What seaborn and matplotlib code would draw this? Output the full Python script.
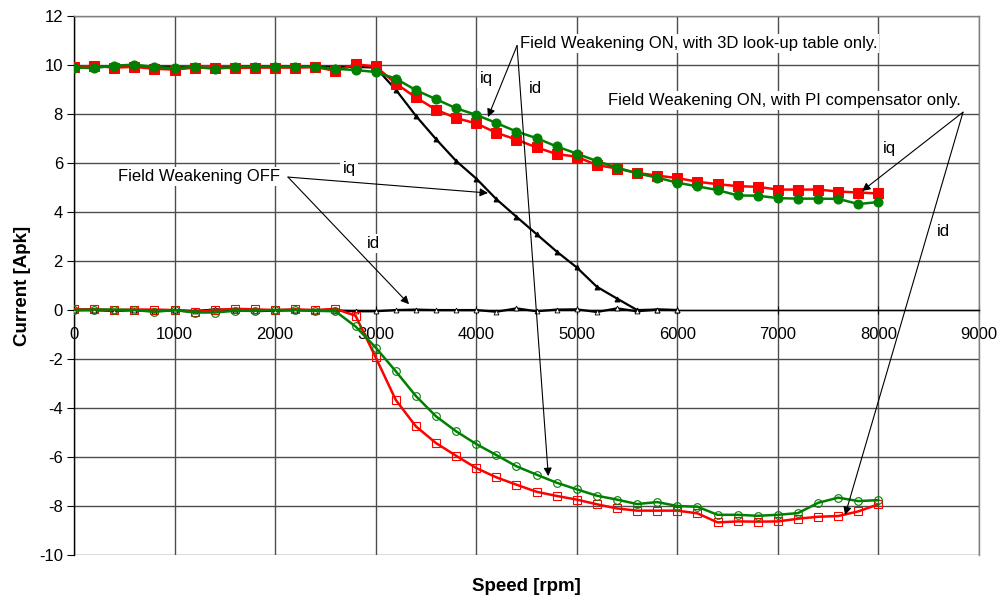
import matplotlib
matplotlib.use("Agg")
import pandas as pd
import seaborn as sns
from matplotlib import pyplot as plt

sns.set_style("white")
plt.rcParams['font.family'] = ['Liberation Sans', 'DejaVu Sans']
plt.rcParams['axes.unicode_minus'] = False
plt.rcParams['text.color'] = 'black'
plt.rcParams['axes.labelcolor'] = 'black'
plt.rcParams['xtick.color'] = 'black'
plt.rcParams['ytick.color'] = 'black'

# Speed points [rpm]
speed = [0, 200, 400, 600, 800, 1000, 1200, 1400, 1600, 1800, 2000, 2200, 2400, 2600,
         2800, 3000, 3200, 3400, 3600, 3800, 4000, 4200, 4400, 4600, 4800, 5000, 5200,
         5400, 5600, 5800, 6000, 6200, 6400, 6600, 6800, 7000, 7200, 7400, 7600, 7800, 8000]
speed_off = speed[:31]

# Field weakening OFF
off_iq = [9.95, 9.93, 9.93, 9.93, 9.93, 9.93, 9.90, 9.90, 9.93, 9.93, 9.93, 9.93, 9.93, 9.93,
          9.93, 9.90, 9.00, 7.93, 6.98, 6.09, 5.37, 4.53, 3.81, 3.10, 2.39, 1.74, 0.95, 0.47,
          0.00, 0.02, 0.00]
off_id = [0.00, 0.00, -0.03, 0.00, -0.05, 0.00, -0.05, 0.03, 0.00, -0.05, -0.02, 0.00, -0.02,
          -0.02, -0.05, -0.05, 0.00, 0.02, 0.00, 0.00, 0.00, -0.07, 0.07, -0.05, 0.02, 0.03,
          -0.08, 0.07, -0.05, 0.02, 0.00]

# Field weakening ON, PI compensator only (red)
pi_iq = [9.93, 9.97, 9.90, 9.93, 9.85, 9.82, 9.90, 9.90, 9.88, 9.90, 9.90, 9.90, 9.92, 9.77,
         10.03, 9.95, 9.25, 8.68, 8.18, 7.84, 7.62, 7.24, 6.96, 6.64, 6.37, 6.26, 5.92, 5.78,
         5.60, 5.49, 5.39, 5.24, 5.14, 5.06, 5.03, 4.92, 4.92, 4.92, 4.84, 4.80, 4.76]
pi_id = [0.03, 0.03, 0.00, 0.02, 0.02, 0.00, -0.08, 0.00, 0.05, 0.03, 0.00, 0.03, 0.00, 0.05,
         -0.23, -1.93, -3.67, -4.75, -5.43, -5.95, -6.45, -6.83, -7.13, -7.42, -7.59, -7.74,
         -7.93, -8.10, -8.19, -8.19, -8.19, -8.30, -8.67, -8.63, -8.64, -8.63, -8.52, -8.44,
         -8.41, -8.22, -7.93]

# Field weakening ON, 3D look-up table only (green)
lut_iq = [9.90, 9.88, 9.98, 10.02, 9.93, 9.87, 9.93, 9.85, 9.93, 9.93, 9.93, 9.93, 9.93, 9.85,
          9.80, 9.72, 9.45, 8.98, 8.61, 8.24, 7.97, 7.64, 7.29, 7.02, 6.68, 6.39, 6.08, 5.82,
          5.58, 5.41, 5.20, 5.05, 4.90, 4.68, 4.67, 4.57, 4.55, 4.55, 4.54, 4.33, 4.41]
lut_id = [0.00, 0.02, 0.02, 0.00, -0.07, 0.00, -0.10, -0.10, -0.03, -0.03, 0.00, 0.00, -0.03,
          -0.05, -0.67, -1.53, -2.50, -3.51, -4.34, -4.95, -5.47, -5.92, -6.38, -6.72, -7.05,
          -7.32, -7.58, -7.74, -7.92, -7.84, -8.00, -8.03, -8.36, -8.36, -8.40, -8.36, -8.29,
          -7.87, -7.66, -7.80, -7.76]

RED = '#FF0000'
GREEN = '#008000'
FS = 12

fig = plt.figure(figsize=(10, 5.99), dpi=100)
ax = fig.add_axes([0.074, 0.0735, 0.905, 0.8995])

# grid first
ax.set_axisbelow(True)
ax.grid(True, color='#4d4d4d', linewidth=1.0)

sns.lineplot(x=speed_off, y=off_iq, ax=ax, color='black', lw=1.6, marker='^', ms=3.5,
             mec='black', mfc='black', estimator=None, sort=False, zorder=3)
sns.lineplot(x=speed_off, y=off_id, ax=ax, color='black', lw=1.6, marker='^', ms=3.5,
             mec='black', mfc='white', mew=0.6, estimator=None, sort=False, zorder=3)
sns.lineplot(x=speed, y=pi_iq, ax=ax, color=RED, lw=1.8, marker='s', ms=6.5,
             mec=RED, mfc=RED, estimator=None, sort=False, zorder=4)
sns.lineplot(x=speed, y=pi_id, ax=ax, color=RED, lw=1.8, marker='s', ms=5.5,
             mec=RED, mfc='none', mew=0.8, estimator=None, sort=False, zorder=4)
sns.lineplot(x=speed, y=lut_iq, ax=ax, color=GREEN, lw=1.8, marker='o', ms=6.5,
             mec=GREEN, mfc=GREEN, estimator=None, sort=False, zorder=5)
sns.lineplot(x=speed, y=lut_id, ax=ax, color=GREEN, lw=1.8, marker='o', ms=5.5,
             mec=GREEN, mfc='none', mew=0.8, estimator=None, sort=False, zorder=5)

ax.set_xlim(0, 9000)
ax.set_ylim(-10, 12)
ax.set_xticks(range(0, 9001, 1000))
ax.set_yticks(range(-10, 13, 2))

# Excel-like axes: x axis crosses at y=0
ax.spines['bottom'].set_position(('data', 0))
ax.spines['bottom'].set_color('black')
ax.spines['left'].set_color('black')
ax.spines['top'].set_color('#808080')
ax.spines['right'].set_color('#808080')
for s in ax.spines.values():
    s.set_linewidth(1.0)
ax.tick_params(axis='x', direction='inout', length=6, pad=9, labelsize=FS, color='black')
ax.tick_params(axis='y', direction='out', length=5, pad=3, labelsize=FS, color='black')
ax.tick_params(left=True, bottom=True)

ax.set_xlabel('Speed [rpm]', fontsize=13.5, fontweight='bold')
ax.xaxis.set_label_coords(0.5, -0.043)
ax.set_ylabel('Current [Apk]', fontsize=13.5, fontweight='bold')
ax.yaxis.set_label_coords(-0.048, 0.5)

box = dict(facecolor='white', edgecolor='none', pad=1.5)
arrow = dict(arrowstyle='-|>', color='black', lw=0.8, mutation_scale=12, shrinkA=0, shrinkB=0)

# Field Weakening OFF
ax.text(438, 5.45, 'Field Weakening OFF', fontsize=FS, va='center', ha='left', bbox=box, zorder=10)
ax.annotate('', xy=(4117, 4.78), xytext=(2128, 5.43), arrowprops=arrow, zorder=9)
ax.annotate('', xy=(3332, 0.24), xytext=(2128, 5.43), arrowprops=arrow, zorder=9)
ax.text(2735, 5.8, 'iq', fontsize=FS, ha='center', va='center', bbox=box, zorder=10)
ax.text(2974, 2.73, 'id', fontsize=FS, ha='center', va='center', bbox=box, zorder=10)

# Field Weakening ON, 3D look-up table
ax.text(4435, 10.9, 'Field Weakening ON, with 3D look-up table only.', fontsize=FS,
        ha='left', va='center', bbox=box, zorder=10)
ax.annotate('', xy=(4117, 7.88), xytext=(4406, 10.8), arrowprops=arrow, zorder=9)
ax.annotate('', xy=(4717, -6.78), xytext=(4406, 10.8), arrowprops=arrow, zorder=9)
ax.text(4097, 9.47, 'iq', fontsize=FS, ha='center', va='center', bbox=box, zorder=10)
ax.text(4585, 9.06, 'id', fontsize=FS, ha='center', va='center', bbox=box, zorder=10)

# Field Weakening ON, PI compensator
ax.text(5311, 8.57, 'Field Weakening ON, with PI compensator only.', fontsize=FS,
        ha='left', va='center', bbox=box, zorder=10)
ax.annotate('', xy=(7837, 4.86), xytext=(8841, 8.08), arrowprops=arrow, zorder=9)
ax.annotate('', xy=(7668, -8.37), xytext=(8841, 8.08), arrowprops=arrow, zorder=9)
ax.text(8105, 6.6, 'iq', fontsize=FS, ha='center', va='center', bbox=box, zorder=10)
ax.text(8642, 3.22, 'id', fontsize=FS, ha='center', va='center', bbox=box, zorder=10)

fig.savefig('out.png', dpi=100)
